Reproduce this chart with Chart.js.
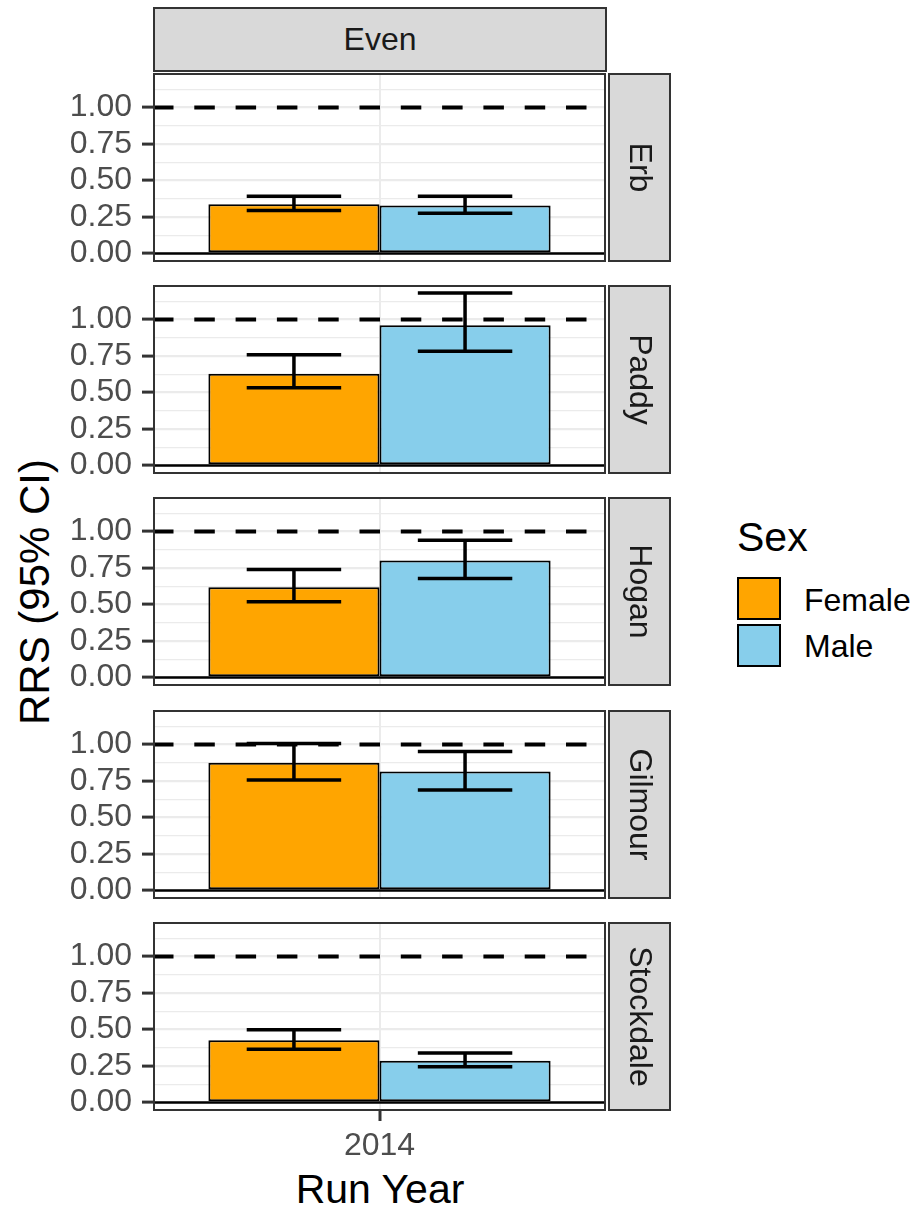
<!DOCTYPE html>
<html>
<head>
<meta charset="utf-8">
<script src="https://cdn.jsdelivr.net/npm/chart.js@4"></script>
<style>
  html, body { margin: 0; padding: 0; background: #fff; }
  #fig { position: relative; width: 921px; height: 1208px; overflow: hidden;
         font-family: "Liberation Sans", Arial, Helvetica, sans-serif; }
  #fig canvas { position: absolute; left: 0; }
  .txt { position: absolute; white-space: nowrap; }
  .key { position: absolute; width: 44px; height: 43px; box-sizing: border-box; border: 2px solid #000; }
</style>
</head>
<body>
<div id="fig">
  <div id="topStrip" style="position:absolute; left:153px; top:7px; width:454px; height:65px; box-sizing:border-box;
       border:2px solid #333; background:#D9D9D9; color:#1A1A1A; font-size:32px; line-height:61px; text-align:center;">Even</div>
  <div class="txt" style="left:35px; top:592px; font-size:42px; line-height:42px; color:#000;
       transform: translate(-50%, -50%) rotate(-90deg);">RRS (95% CI)</div>
  <div class="txt" style="left:380px; top:1189px; font-size:41px; line-height:41px; color:#000;
       transform: translate(-50%, -50%);">Run Year</div>

  <div class="txt" style="left:737px; top:517px; font-size:41px; line-height:41px; color:#000;">Sex</div>
  <div class="key" style="left:737px; top:577px; background:#FFA500;"></div>
  <div class="key" style="left:737px; top:624px; background:#87CEEB;"></div>
  <div class="txt" style="left:804px; top:584px; font-size:32px; line-height:32px; color:#000;">Female</div>
  <div class="txt" style="left:804px; top:630px; font-size:32px; line-height:32px; color:#000;">Male</div>
</div>

<script>
// facet rows, x categories
const sites = ['Erb', 'Paddy', 'Hogan', 'Gilmour', 'Stockdale'];
const runYears = ['2014'];
const sexes = ['Female', 'Male'];

// RRS estimates and 95% CI per site
const femaleRRS   = [0.337, 0.628, 0.619, 0.875, 0.427];
const femaleLower = [0.295, 0.532, 0.518, 0.757, 0.365];
const femaleUpper = [0.392, 0.759, 0.740, 1.007, 0.499];
const maleRRS     = [0.329, 0.961, 0.801, 0.816, 0.285];
const maleLower   = [0.276, 0.782, 0.678, 0.689, 0.245];
const maleUpper   = [0.392, 1.183, 0.941, 0.952, 0.338];

const yMajorTicks = [0, 0.25, 0.5, 0.75, 1];
const yMinorTicks = [0.125, 0.375, 0.625, 0.875, 1.125];
const refLine = 1;

const colours = { Female: '#FFA500', Male: '#87CEEB' };
const FONT = '"Liberation Sans", Arial, Helvetica, sans-serif';
Chart.defaults.font.family = FONT;

const PAD = 40;
const PANEL_H = 189;
const PANEL_LEFT = 153;
const PANEL_RIGHT = 606;
const panelTops = [73, 285, 497, 710, 922];
const BOTTOM_AXIS = 60;

const facetPlugin = {
  id: 'facet',
  afterDatasetsDraw(chart, args, opts) {
    const { ctx, chartArea: a } = chart;
    const y = chart.scales.y;
    ctx.save();

    // error bars
    ctx.strokeStyle = '#000';
    ctx.lineWidth = 3.5;
    ctx.lineCap = 'butt';
    chart.data.datasets.forEach((ds, d) => {
      const bar = chart.getDatasetMeta(d).data[0];
      const half = bar.width * 0.276;
      const yl = y.getPixelForValue(ds.lower[0]);
      const yh = y.getPixelForValue(ds.upper[0]);
      ctx.beginPath();
      ctx.moveTo(bar.x - half, yh); ctx.lineTo(bar.x + half, yh);
      ctx.moveTo(bar.x - half, yl); ctx.lineTo(bar.x + half, yl);
      ctx.moveTo(bar.x, yh); ctx.lineTo(bar.x, yl);
      ctx.stroke();
    });

    // dashed reference line at RRS = 1
    const yr = y.getPixelForValue(refLine);
    ctx.setLineDash([20.5, 20.8]);
    ctx.lineWidth = 4;
    ctx.beginPath();
    ctx.moveTo(a.left, yr); ctx.lineTo(a.right, yr);
    ctx.stroke();
    ctx.setLineDash([]);

    // zero line
    const y0 = y.getPixelForValue(0);
    ctx.lineWidth = 2.5;
    ctx.beginPath();
    ctx.moveTo(a.left, y0); ctx.lineTo(a.right, y0);
    ctx.stroke();

    // panel border
    ctx.strokeStyle = '#333333';
    ctx.lineWidth = 2;
    ctx.strokeRect(a.left + 1, a.top + 1, a.right - a.left - 2, a.bottom - a.top - 2);

    // right strip
    const sx = a.right + 2, sw = 63;
    ctx.fillStyle = '#D9D9D9';
    ctx.fillRect(sx, a.top, sw, a.bottom - a.top);
    ctx.strokeRect(sx + 1, a.top + 1, sw - 2, a.bottom - a.top - 2);
    ctx.translate(sx + sw / 2, (a.top + a.bottom) / 2);
    ctx.rotate(Math.PI / 2);
    ctx.fillStyle = '#1A1A1A';
    ctx.font = '32px ' + FONT;
    ctx.textAlign = 'center';
    ctx.textBaseline = 'middle';
    ctx.fillText(opts.label, 0, 1);
    ctx.restore();
  }
};

const fig = document.getElementById('fig');

sites.forEach((site, i) => {
  const last = i === sites.length - 1;
  const canvas = document.createElement('canvas');
  const h = PAD + PANEL_H + (last ? BOTTOM_AXIS : PAD);
  canvas.width = 921;
  canvas.height = h;
  canvas.style.width = '921px';
  canvas.style.height = h + 'px';
  canvas.style.top = (panelTops[i] - PAD) + 'px';
  fig.appendChild(canvas);

  const values = { Female: femaleRRS[i], Male: maleRRS[i] };
  const lows = { Female: femaleLower[i], Male: maleLower[i] };
  const highs = { Female: femaleUpper[i], Male: maleUpper[i] };

  new Chart(canvas.getContext('2d'), {
    type: 'bar',
    data: {
      labels: runYears,
      datasets: sexes.map(s => ({
        label: s,
        data: [values[s]],
        lower: [lows[s]],
        upper: [highs[s]],
        backgroundColor: colours[s],
        borderColor: '#000',
        borderWidth: 2,
        borderSkipped: false,
        barPercentage: 1,
        categoryPercentage: 0.7555
      }))
    },
    options: {
      responsive: false,
      animation: false,
      devicePixelRatio: 1,
      layout: { padding: { top: PAD, bottom: last ? 0 : PAD, left: 0, right: 921 - PANEL_RIGHT } },
      plugins: {
        legend: { display: false },
        tooltip: { enabled: false },
        facet: { label: site }
      },
      scales: {
        x: {
          offset: true,
          border: { display: false },
          grid: {
            offset: false,
            color: '#EBEBEB',
            lineWidth: 2,
            drawTicks: last,
            tickLength: 10,
            tickColor: '#333333',
            tickWidth: 3
          },
          ticks: {
            display: last,
            color: '#4D4D4D',
            font: { size: 32 },
            padding: 6
          },
          afterFit(scale) { scale.height = last ? BOTTOM_AXIS : 0; }
        },
        y: {
          min: -0.059,
          max: 1.237,
          border: { display: false },
          afterBuildTicks(scale) {
            scale.ticks = yMajorTicks.concat(yMinorTicks)
              .sort((p, q) => p - q)
              .map(v => ({ value: v }));
          },
          afterFit(scale) { scale.width = PANEL_LEFT; },
          grid: {
            color: '#EBEBEB',
            lineWidth: ctx => yMajorTicks.includes(ctx.tick.value) ? 2.2 : 1.2,
            tickLength: 11,
            tickWidth: 3,
            tickColor: ctx => yMajorTicks.includes(ctx.tick.value) ? '#333333' : 'rgba(0,0,0,0)'
          },
          ticks: {
            autoSkip: false,
            color: '#4D4D4D',
            font: { size: 32 },
            padding: 10,
            callback: v => yMajorTicks.includes(v) ? v.toFixed(2) : ''
          }
        }
      }
    },
    plugins: [facetPlugin]
  });
});
</script>
</body>
</html>
